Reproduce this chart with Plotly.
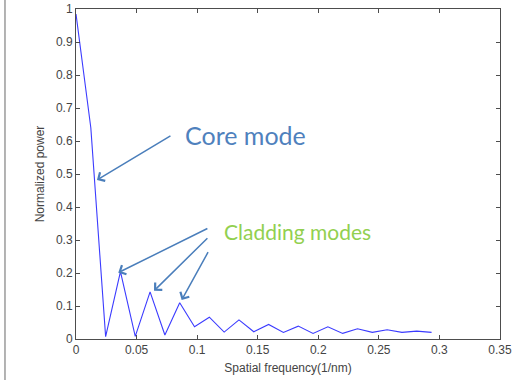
import plotly.graph_objects as go

# Data
freq_step = 0.01223
power = [0.985, 0.64, 0.007, 0.204, 0.008, 0.143, 0.012, 0.110, 0.037, 0.066,
         0.021, 0.058, 0.022, 0.044, 0.020, 0.039, 0.017, 0.037, 0.017, 0.031,
         0.020, 0.028, 0.020, 0.024, 0.020]
freq = [i * freq_step for i in range(len(power))]

x_ticks = [0, 0.05, 0.1, 0.15, 0.2, 0.25, 0.3, 0.35]
x_tick_labels = ["0", "0.05", "0.1", "0.15", "0.2", "0.25", "0.3", "0.35"]
y_ticks = [0, 0.1, 0.2, 0.3, 0.4, 0.5, 0.6, 0.7, 0.8, 0.9, 1.0]
y_tick_labels = ["0", "0.1", "0.2", "0.3", "0.4", "0.5", "0.6", "0.7", "0.8", "0.9", "1"]

# annotation anchors (data coordinates)
core_label = ("Core mode", 0.0885, 0.617)
clad_label = ("Cladding modes", 0.1205, 0.325)
core_arrow = [(0.0792, 0.618, 0.0173, 0.482)]
clad_arrows = [(0.1097, 0.337, 0.0349, 0.201),
               (0.1097, 0.310, 0.0644, 0.146),
               (0.1097, 0.2676, 0.0872, 0.118)]

fig = go.Figure()
fig.add_trace(go.Scatter(x=freq, y=power, mode="lines",
                         line=dict(color="#3b3bff", width=1.1),
                         hoverinfo="skip", showlegend=False))

axis_common = dict(showline=True, linecolor="#4d4d4d", linewidth=1, mirror="ticks",
                   ticks="inside", ticklen=4, tickcolor="#4d4d4d", showgrid=False,
                   zeroline=False, automargin=False,
                   tickfont=dict(family="Liberation Sans, Arial", size=12, color="#444444"))

fig.update_xaxes(range=[0, 0.35], tickvals=x_ticks, ticktext=x_tick_labels,
                 title=dict(text="Spatial frequency(1/nm)", standoff=7,
                            font=dict(family="Liberation Sans, Arial", size=12, color="#444444")),
                 **axis_common)
fig.update_yaxes(range=[0, 1], tickvals=y_ticks, ticktext=y_tick_labels,
                 title=dict(text="Normalized power", standoff=8,
                            font=dict(family="Liberation Sans, Arial", size=12, color="#444444")),
                 **axis_common)

annotations = []
annotations.append(dict(x=core_label[1], y=core_label[2], text=core_label[0], showarrow=False,
                        xanchor="left", yanchor="middle", xref="x", yref="y",
                        font=dict(family="Lato", size=25, color="#4f81bd")))
annotations.append(dict(x=clad_label[1], y=clad_label[2], text=clad_label[0], showarrow=False,
                        xanchor="left", yanchor="middle", xref="x", yref="y",
                        font=dict(family="Lato", size=21, color="#92d050")))
for (tx, ty, hx, hy) in core_arrow + clad_arrows:
    annotations.append(dict(x=hx, y=hy, ax=tx, ay=ty, xref="x", yref="y", axref="x", ayref="y",
                            text="", showarrow=True, arrowhead=4, arrowsize=1.3, arrowwidth=1.5,
                            arrowcolor="#4a7ebb", standoff=0))

fig.update_layout(width=513, height=380, margin=dict(l=76, r=13, t=9, b=41, autoexpand=False),
                  paper_bgcolor="white", plot_bgcolor="white", annotations=annotations,
                  shapes=[dict(type="line", xref="paper", yref="paper",
                               x0=-0.1675, x1=-0.1675, y0=-0.2, y1=1.05,
                               line=dict(color="#9a9a9a", width=1.5))])

fig.write_html("out.html", config={"displayModeBar": False},
               post_script="document.body.style.margin='0';document.body.style.overflow='hidden';")
